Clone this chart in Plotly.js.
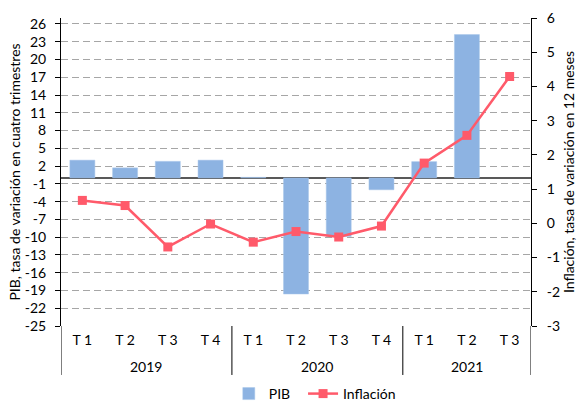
<!DOCTYPE html>
<html>
<head>
<meta charset="utf-8">
<script src="https://cdn.plot.ly/plotly-3.0.1.min.js"></script>
<style>
html,body{margin:0;padding:0;background:#fff;}
#chart{width:584px;height:402px;}
</style>
</head>
<body>
<div id="chart"></div>
<script>
const years = ["2019","2019","2019","2019","2020","2020","2020","2020","2021","2021","2021"];
const quarters = ["T 1","T 2","T 3","T 4","T 1","T 2","T 3","T 4","T 1","T 2","T 3"];
const pib = [3.0, 1.7, 2.8, 3.0, 0.1, -19.6, -9.9, -2.0, 2.75, 24.2, null];
const inflacion = [0.67, 0.52, -0.69, -0.02, -0.55, -0.24, -0.40, -0.08, 1.76, 2.57, 4.29];
const leftTicks = [-25,-22,-19,-16,-13,-10,-7,-4,-1,2,5,8,11,14,17,20,23,26];
const rightTicks = [-3,-2,-1,0,1,2,3,4,5,6];

const FONT = "Lato, 'Open Sans', sans-serif";
const FS = 14;
const textColor = "#000000";

const idx = quarters.map((_, i) => i);

// year groups derived from the categories
const groups = [];
years.forEach((y, i) => {
  const g = groups.length ? groups[groups.length - 1] : null;
  if (g && g.year === y) { g.end = i; } else { groups.push({year: y, start: i, end: i}); }
});

const annotations = groups.map(g => ({
  xref: "x", yref: "paper",
  x: (g.start + g.end) / 2, y: -0.13,
  text: g.year, showarrow: false,
  xanchor: "center", yanchor: "middle",
  font: {family: FONT, size: FS, color: textColor}
}));

const bounds = [groups[0].start - 0.5].concat(groups.map(g => g.end + 0.5));
const shapes = bounds.map(b => ({
  type: "line", xref: "x", yref: "paper",
  x0: b, x1: b, y0: 0, y1: -0.159,
  line: {color: "#000000", width: 1}
}));

const traces = [
  {
    type: "bar",
    name: "PIB",
    x: idx,
    y: pib,
    marker: {color: "#8DB3E2", line: {color: "#A9C6EA", width: 0.5}},
    width: 0.585,
    yaxis: "y",
    legend: "legend"
  },
  {
    type: "scatter",
    mode: "lines+markers",
    name: "Inflación",
    x: idx,
    y: inflacion,
    line: {color: "#FF5A6A", width: 2.5},
    marker: {symbol: "square", size: 9, color: "#FF5A6A"},
    yaxis: "y2",
    legend: "legend2"
  }
];

const legendCommon = {
  orientation: "h",
  xanchor: "left",
  y: -0.2727, yanchor: "bottom",
  font: {family: FONT, size: FS, color: textColor},
  itemwidth: 30,
  bgcolor: "rgba(0,0,0,0)"
};

const layout = {
  width: 584,
  height: 402,
  margin: {l: 61, r: 53, t: 18, b: 76, autoexpand: false},
  paper_bgcolor: "#ffffff",
  plot_bgcolor: "#ffffff",
  font: {family: FONT, size: FS, color: textColor},
  showlegend: true,
  legend: Object.assign({}, legendCommon, {x: 0.357}),
  legend2: Object.assign({}, legendCommon, {x: 0.515}),
  annotations: annotations,
  shapes: shapes,
  xaxis: {
    type: "linear",
    range: [-0.5, 10.5],
    tickvals: idx,
    ticktext: quarters,
    showgrid: false,
    showline: false,
    zeroline: false,
    ticks: "",
    ticklabelstandoff: 4,
    automargin: false,
    tickfont: {family: FONT, size: FS, color: textColor}
  },
  yaxis: {
    range: [-25, 27],
    tickvals: leftTicks,
    ticktext: leftTicks.map(String),
    showgrid: true,
    gridcolor: "#A6A6A6",
    griddash: "7px,4px",
    gridwidth: 1,
    zeroline: true,
    zerolinecolor: "#595959",
    zerolinewidth: 1.5,
    showline: true,
    linecolor: "#000000",
    linewidth: 1,
    ticks: "outside",
    ticklen: 5,
    tickcolor: "#000000",
    ticklabelstandoff: 6,
    automargin: false,
    tickfont: {family: FONT, size: FS, color: textColor},
    title: {text: "PIB, tasa de variación en cuatro trimestres", font: {family: FONT, size: FS, color: textColor}, standoff: 0}
  },
  yaxis2: {
    overlaying: "y",
    side: "right",
    range: [-3, 6],
    tickvals: rightTicks,
    ticktext: rightTicks.map(String),
    showgrid: false,
    zeroline: false,
    showline: true,
    linecolor: "#000000",
    linewidth: 1,
    ticks: "outside",
    ticklen: 5,
    tickcolor: "#000000",
    ticklabelstandoff: 7,
    automargin: false,
    tickfont: {family: FONT, size: FS, color: textColor},
    title: {text: "Inflación, tasa de variación en 12 meses", font: {family: FONT, size: FS, color: textColor}, standoff: 4}
  }
};

Plotly.newPlot("chart", traces, layout, {displayModeBar: false, staticPlot: true});
</script>
</body>
</html>
